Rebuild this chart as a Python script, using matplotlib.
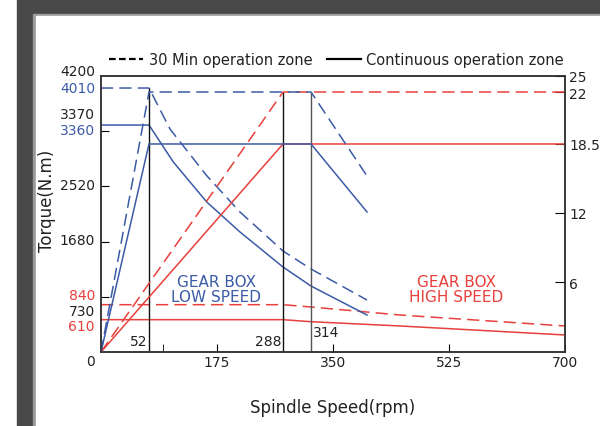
import matplotlib
matplotlib.use("Agg")
import matplotlib.pyplot as plt
from matplotlib.lines import Line2D
from matplotlib.patches import Rectangle

plt.rcParams['font.family'] = ['DejaVu Sans']

BLUE = "#3b5ba6"
RED = "#e8403c"
INK = "#222222"

# torque curves (left axis, N.m), speeds as drawn (rpm)
low_t30_speed = [0, 72.4, 104.1, 159.5, 209.7, 274.6, 316.8, 401.3]
low_t30_torque = [4017, 4017, 3393, 2683, 2130, 1537, 1263, 791]
low_tc_speed = [0, 72.4, 109.1, 159.5, 209.7, 274.6, 316.8, 401.3]
low_tc_torque = [3454, 3454, 2891, 2283, 1826, 1293, 1004, 563]
high_t30_speed = [0, 274.6, 316.8, 451, 700]
high_t30_torque = [720, 720, 685, 563, 396]
high_tc_speed = [0, 274.6, 316.8, 451, 700]
high_tc_torque = [492, 492, 461, 396, 259]

# power curves (right axis, kW)
low_p30_speed = [0, 72.4, 316.8, 401.3]
low_p30_power = [0, 22.41, 22.41, 15.17]
low_pc_speed = [0, 72.4, 316.8, 401.3]
low_pc_power = [0, 17.93, 17.93, 12.07]
high_p30_speed = [0, 274.6, 700]
high_p30_power = [0, 22.41, 22.41]
high_pc_speed = [0, 274.6, 700]
high_pc_power = [0, 17.93, 17.93]

# base speed markers
base_speeds = [72.4, 274.6, 316.8]
base_tops = [4017, 3957, 3957]
base_labels = ["52", "288", "314"]

# axis labelling
x_ticks = [175, 350, 525, 700]
left_ticks = [840, 1680, 2520, 3360]
left_label_pos = [4276, 4017, 3622, 3379, 2542, 1705, 868, 624, 396, -137]
left_label_txt = ["4200", "4010", "3370", "3360", "2520", "1680", "840", "730", "610", "0"]
left_label_col = [INK, BLUE, INK, BLUE, INK, INK, RED, INK, RED, INK]
right_ticks = [6, 12, 17.93, 22.41, 23.79]
right_tick_txt = ["6", "12", "18.5", "22", "25"]

fig = plt.figure(figsize=(6, 4.27), dpi=100)

# page frame from the screenshot
fig.patches.append(Rectangle((17 / 600, 0), 583 / 600, 1, transform=fig.transFigure,
                             color="#4a494a", zorder=-10))
fig.patches.append(Rectangle((33 / 600, 0), 567 / 600, 412 / 427, transform=fig.transFigure,
                             color="#9a9a9a", zorder=-9))
fig.patches.append(Rectangle((36 / 600, 0), 564 / 600, 410 / 427, transform=fig.transFigure,
                             color="white", zorder=-8))

ax = fig.add_axes([101 / 600, 74 / 427, 464 / 600, 276 / 427])
ax.patch.set_alpha(0)
ax.set_xlim(0, 700)
ax.set_ylim(0, 4200)
ax2 = ax.twinx()
ax2.set_ylim(0, 23.79)

lw = 1.1
dash = (0, (8, 4))

ax.plot(high_t30_speed, high_t30_torque, color=RED, lw=lw, linestyle=dash)
ax.plot(high_tc_speed, high_tc_torque, color=RED, lw=lw)
ax.plot(low_t30_speed, low_t30_torque, color=BLUE, lw=lw, linestyle=dash)
ax.plot(low_tc_speed, low_tc_torque, color=BLUE, lw=lw)

ax2.plot(high_p30_speed, high_p30_power, color=RED, lw=lw, linestyle=dash)
ax2.plot(high_pc_speed, high_pc_power, color=RED, lw=lw)
ax2.plot(low_p30_speed, low_p30_power, color=BLUE, lw=lw, linestyle=dash)
ax2.plot(low_pc_speed, low_pc_power, color=BLUE, lw=lw)

ax.vlines(base_speeds, 0, base_tops, colors=["#111111", "#111111", "#555555"], lw=1.0)
ax.text(base_speeds[0] - 3, 170, base_labels[0], ha="right", va="center", fontsize=10, color=INK)
ax.text(base_speeds[1] - 3, 170, base_labels[1], ha="right", va="center", fontsize=10, color=INK)
ax.text(base_speeds[2] + 3, 305, base_labels[2], ha="left", va="center", fontsize=10, color=INK)

ax.text(174, 966, "GEAR BOX\nLOW SPEED", ha="center", va="center", fontsize=11,
        color=BLUE, linespacing=1.0)
ax.text(536, 966, "GEAR BOX\nHIGH SPEED", ha="center", va="center", fontsize=11,
        color=RED, linespacing=1.0)

# axes styling
for a in (ax, ax2):
    for s in a.spines.values():
        s.set_color("#333333")
        s.set_linewidth(1.1)

ax.set_xticks(x_ticks)
ax.set_xticks([93], minor=True)
ax.tick_params(axis="x", which="both", direction="in", length=6, pad=2,
               labelsize=10, labelcolor=INK)
ax.set_yticks(left_ticks, labels=[""] * len(left_ticks))
ax.tick_params(axis="y", direction="in", length=6)
for v, t, c in zip(left_label_pos, left_label_txt, left_label_col):
    ax.text(-0.013, v, t, transform=ax.get_yaxis_transform(), ha="right", va="center",
            fontsize=10, color=c, clip_on=False)

ax2.set_yticks(right_ticks, labels=right_tick_txt)
ax2.tick_params(axis="y", direction="in", length=7, pad=3, labelsize=10, labelcolor=INK)

ax.set_xlabel("Spindle Speed(rpm)", fontsize=12, color=INK, labelpad=21)
ax.set_ylabel("Torque(N.m)", fontsize=12, color=INK)
ax.yaxis.set_label_coords(-0.097, 0.55)
ax2.set_ylabel("Power(kW)", fontsize=12, color=INK, labelpad=6)

handles = [Line2D([], [], color="black", lw=1.6, linestyle=(0, (3, 1.5))),
           Line2D([], [], color="black", lw=1.6)]
ax.legend(handles, ["30 Min operation zone", "Continuous operation zone"], ncol=2,
          loc="lower center", bbox_to_anchor=(0.508, 0.997), frameon=False, fontsize=10.5,
          handlelength=2.3, handletextpad=0.4, columnspacing=1.0, borderpad=0.2,
          labelcolor=INK)

fig.savefig("out.png", dpi=100)
